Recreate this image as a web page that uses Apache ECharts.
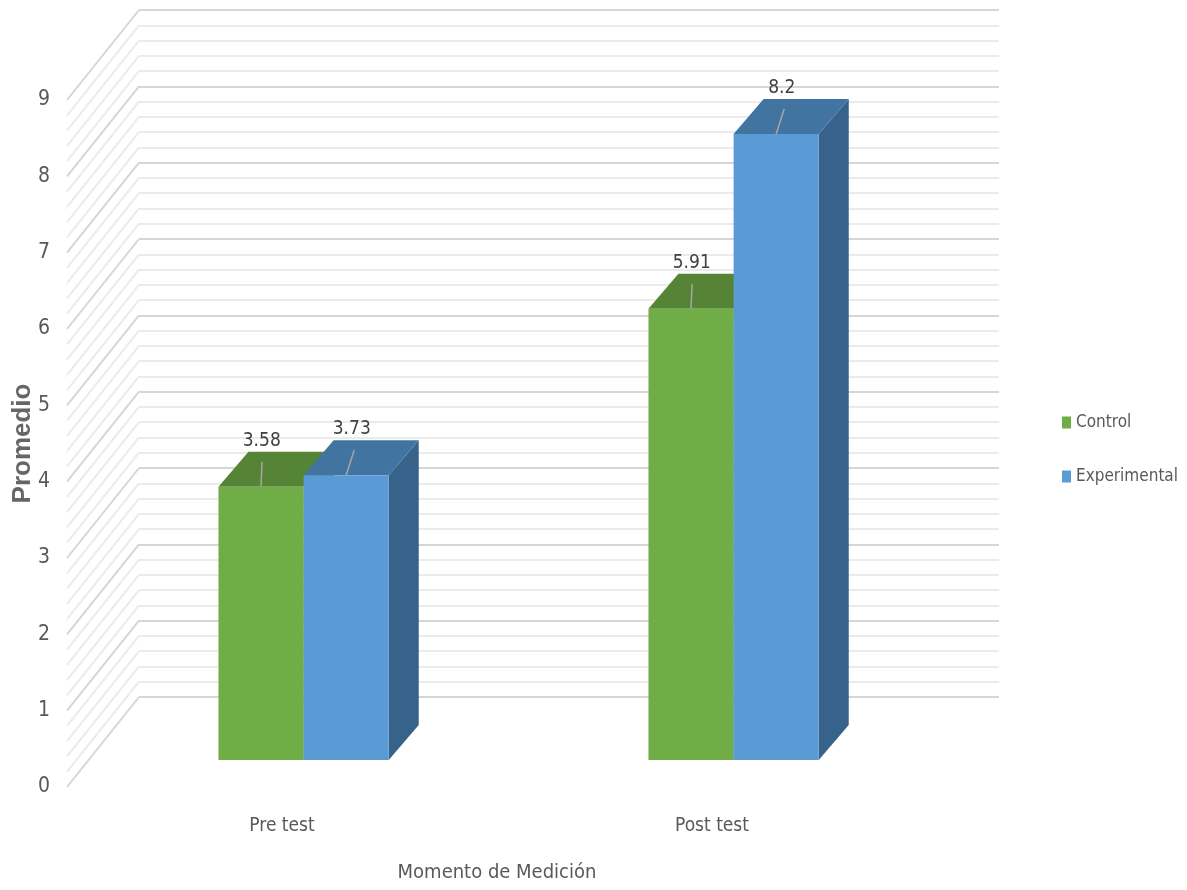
<!DOCTYPE html>
<html>
<head>
<meta charset="utf-8">
<script src="https://cdn.jsdelivr.net/npm/echarts@6/dist/echarts.min.js"></script>
<style>
html,body{margin:0;padding:0;background:#fff;}
#chart{width:1187px;height:890px;}
</style>
</head>
<body>
<div id="chart"></div>
<script>
// ---- data ----
const categories = ['Pre test', 'Post test'];
const controlValues = [3.58, 5.91];
const experimentalValues = [3.73, 8.2];
const seriesNames = ['Control', 'Experimental'];
const yTickMin = 0, yTickMax = 9, yTickStep = 1;
const xAxisTitle = 'Momento de Medición';
const yAxisTitle = 'Promedio';

// ---- 3D projection constants (pixels) ----
const WALL_DX = 72, WALL_DY = -90;    // side wall depth
const FRONT_DX = 21.6, FRONT_DY = -27; // bar front plane offset
const BAR_DX = 30, BAR_DY = -35;       // bar depth
const BAR_FRAC = 0.198;                // bar width / band width

const FONT = "'Liberation Sans Narrow','DejaVu Sans Condensed','Liberation Sans',sans-serif";
const TXT = '#595959';

const colors = [
  {front:'#70AD47', top:'#568437', side:'#4d7630'},
  {front:'#5B9BD5', top:'#4274A1', side:'#37638B'}
];
const leadDx = [1, 8];

// gridline levels of the side wall (major + minor)
const wallLevels = [];
for (let i = 0; i <= (yTickMax - yTickMin) * 5; i++) wallLevels.push(+(yTickMin + i * yTickStep / 5).toFixed(2));

function barRenderer(si) {
  return function (params, api) {
    const cat = api.value(0), v = api.value(1);
    const p0 = api.coord([cat, 0]);
    const p1 = api.coord([cat, v]);
    const band = api.size([1, 0])[0];
    const bw = band * BAR_FRAC;
    const cx = p0[0] + FRONT_DX;
    const x0 = si === 0 ? cx - bw : cx;
    const x1 = x0 + bw;
    const yb = p0[1] + FRONT_DY;
    const yt = p1[1] + FRONT_DY;
    const c = colors[si];
    const xc = (x0 + x1) / 2;
    return {
      type: 'group',
      children: [
        {type:'polygon', shape:{points:[[x1,yt],[x1+BAR_DX,yt+BAR_DY],[x1+BAR_DX,yb+BAR_DY],[x1,yb]]}, style:{fill:c.side}},
        {type:'polygon', shape:{points:[[x0,yt],[x1,yt],[x1+BAR_DX,yt+BAR_DY],[x0+BAR_DX,yt+BAR_DY]]}, style:{fill:c.top}},
        {type:'rect', shape:{x:x0, y:yt, width:bw, height:yb-yt}, style:{fill:c.front}},
        {type:'line', shape:{x1:xc, y1:yt, x2:xc+leadDx[si], y2:yt-25}, style:{stroke:'#a6a6a6', lineWidth:1.5}},
        {type:'text', x:xc+leadDx[si]*0.7, y:yt-46, style:{text:String(v), fill:'#404040', font:'19px ' + FONT, align:'center', verticalAlign:'middle'}}
      ]
    };
  };
}

function wallRenderer(params, api) {
  const lvl = api.value(1);
  const y = api.coord([0, lvl])[1];
  const x = params.coordSys.x;
  const major = Math.abs(lvl - Math.round(lvl)) < 1e-6;
  return {
    type:'line',
    shape:{x1:x, y1:y, x2:x+WALL_DX, y2:y+WALL_DY},
    style:{stroke: major ? '#d6d6d6' : '#ebebeb', lineWidth: 2}
  };
}

const chart = echarts.init(document.getElementById('chart'));
chart.setOption({
  animation: false,
  backgroundColor: '#ffffff',
  grid: [
    {left: 67, right: 260, top: 100, bottom: 103, outerBoundsMode: 'none', containLabel: false},
    {left: 139, right: 188, top: 10, bottom: 193, outerBoundsMode: 'none', containLabel: false}
  ],
  xAxis: [
    {
      gridIndex: 0, type: 'category', data: categories,
      axisLine: {show:false}, axisTick: {show:false},
      axisLabel: {color: TXT, fontFamily: FONT, fontSize: 19, margin: 30},
      name: xAxisTitle, nameLocation: 'middle', nameGap: 76, nameMoveOverlap: false,
      nameTextStyle: {color: TXT, fontFamily: FONT, fontSize: 20}
    },
    {gridIndex: 1, type: 'value', show: false, min: 0, max: 1}
  ],
  yAxis: [
    {
      gridIndex: 0, type: 'value', min: yTickMin, max: yTickMax, interval: yTickStep,
      axisLine: {show:false}, axisTick: {show:false}, splitLine: {show:false},
      axisLabel: {color: TXT, fontFamily: FONT, fontSize: 21, margin: 17},
      name: yAxisTitle, nameLocation: 'middle', nameGap: 31, nameRotate: 90, nameMoveOverlap: false,
      nameTextStyle: {color: '#666666', fontFamily: "'Liberation Sans',sans-serif", fontWeight: 'bold', fontSize: 26}
    },
    {
      gridIndex: 1, type: 'value', min: yTickMin, max: yTickMax, interval: yTickStep,
      axisLine: {show:false}, axisTick: {show:false}, axisLabel: {show:false},
      splitLine: {show:true, lineStyle: {color:'#d6d6d6', width:2}},
      minorTick: {show:false, splitNumber:5},
      minorSplitLine: {show:true, lineStyle: {color:'#ebebeb', width:2}}
    }
  ],
  legend: {
    data: seriesNames,
    orient: 'vertical', left: 1062, top: 414, padding: 0,
    itemWidth: 9, itemHeight: 12, itemGap: 37,
    icon: 'rect',
    textStyle: {color: TXT, fontFamily: FONT, fontSize: 17}
  },
  series: [
    {
      type: 'custom', xAxisIndex: 0, yAxisIndex: 0, silent: true, z: 1,
      renderItem: wallRenderer,
      data: wallLevels.map(l => [0, l])
    },
    {
      name: seriesNames[0], type: 'custom', xAxisIndex: 0, yAxisIndex: 0, z: 5,
      itemStyle: {color: colors[0].front},
      renderItem: barRenderer(0),
      encode: {x: 0, y: 1},
      data: controlValues.map((v, i) => [i, v])
    },
    {
      name: seriesNames[1], type: 'custom', xAxisIndex: 0, yAxisIndex: 0, z: 6,
      itemStyle: {color: colors[1].front},
      renderItem: barRenderer(1),
      encode: {x: 0, y: 1},
      data: experimentalValues.map((v, i) => [i, v])
    }
  ]
});
</script>
</body>
</html>
